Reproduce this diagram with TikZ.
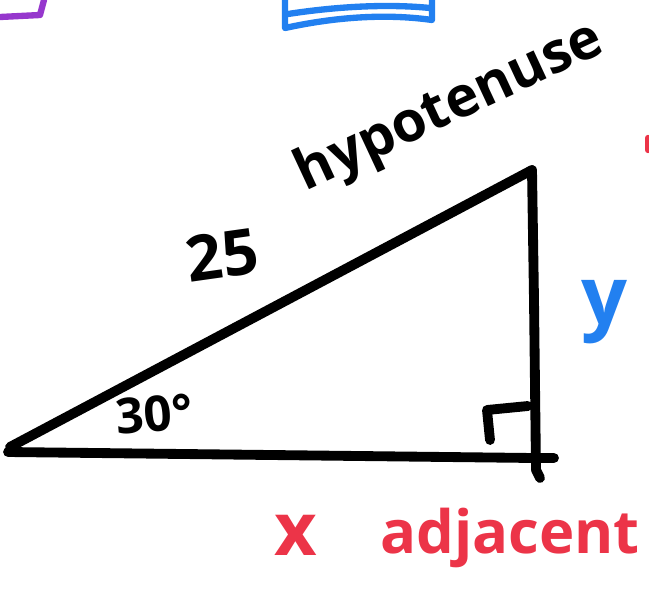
\documentclass[tikz,border=0pt]{standalone}
\usepackage{fontspec}
\setmainfont{Open Sans}
\usepackage{tikz}
\usetikzlibrary{calc}
\definecolor{penBlue}{RGB}{34,128,240}
\definecolor{penRed}{RGB}{236,52,72}
\definecolor{penPurple}{RGB}{150,55,205}

\begin{document}
\begin{tikzpicture}[
    x=0.02cm, y=-0.02cm,
    pen/.style={line width=5.6pt, line cap=round, line join=round, black},
    thinpen/.style={line width=3.6pt, line cap=round, line join=round},
    hand/.style={font=\fontsize{#1}{#1}\selectfont\bfseries, inner sep=0pt},
    hand/.default=30
]
\useasboundingbox (0,0) rectangle (649,612);

% triangle corners
\coordinate (left) at (10,447);
\coordinate (top) at (532,170);
\coordinate (corner) at (534,458);

\draw[pen] (left) -- (top);
\draw[pen] (top) -- (534,300) -- (536,470) -- (540,478);
\draw[pen] (8,452) -- (corner) -- (554,458);
% right angle mark
\draw[pen] (490,440) -- (487,410) -- (528,406);

% partial marks at the top
\draw[thinpen, penPurple] (0,17) -- (40,15) -- (44,0);
\draw[thinpen, penBlue] (285,0) -- (285,28) .. controls (340,16) and (390,14) .. (432,20) -- (432,0);
\draw[thinpen, penBlue] (288,14) .. controls (340,6) and (390,4) .. (430,8);
\draw[thinpen, penRed] (648,138) -- (648,150);

% labels
\node[hand=32, rotate=25] (hyp) at (450,108) {hypotenuse};
\node[hand=36, rotate=8] (side) at (222,255) {25};
\node[hand=28, rotate=5] (ang) at (154,414) {30°};
\node[hand=46, text=penBlue] (opp) at (604,312) {y};
\node[hand=42, text=penRed] (xlab) at (296,535) {x};
\node[hand=34, text=penRed] (adj) at (510,538) {adjacent};
\end{tikzpicture}
\end{document}
